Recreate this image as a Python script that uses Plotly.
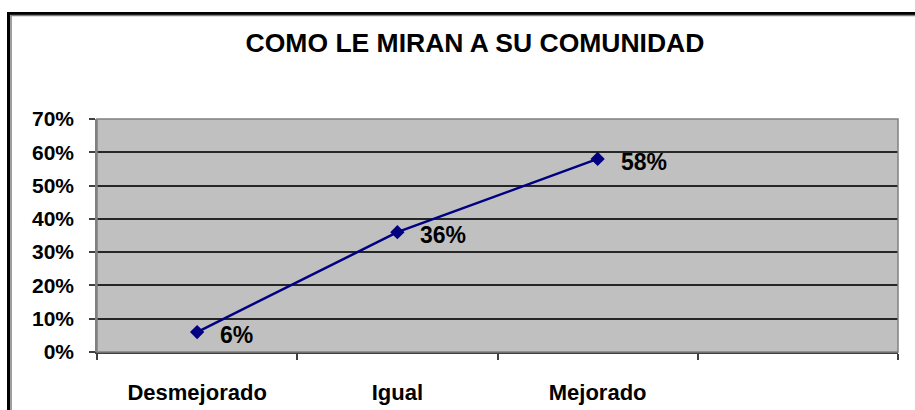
import plotly.graph_objects as go

categories = ["Desmejorado", "Igual", "Mejorado"]
axis_slots = ["Desmejorado", "Igual", "Mejorado", " "]
values = [0.06, 0.36, 0.58]
y_ticks = [0, 0.1, 0.2, 0.3, 0.4, 0.5, 0.6, 0.7]
title_text = "COMO LE MIRAN A SU COMUNIDAD"

W, H = 915, 410
L, R, T, B = 97, 898, 119, 352

FONT = "Liberation Sans, Arial, sans-serif"
NAVY = "#000080"

fig = go.Figure()
fig.add_trace(go.Scatter(
    x=categories, y=values, mode="lines+markers",
    line=dict(color=NAVY, width=2.5),
    marker=dict(symbol="diamond", size=11, color=NAVY),
    cliponaxis=False, showlegend=False, hoverinfo="skip",
))

annotations = [
    dict(x=c, y=v, xref="x", yref="y", text=f"{round(v*100)}%",
         showarrow=False, xanchor="left", yanchor="middle",
         xshift=21, yshift=-3,
         font=dict(family=FONT, size=23, color="black", weight="bold"))
    for c, v in zip(categories, values)
]

def px_x(p):
    return (p - L) / (R - L)

def px_y(p):
    return (B - p) / (B - T)

shapes = [
    dict(type="rect", xref="paper", yref="paper", x0=0, x1=1, y0=0, y1=1,
         line=dict(color="#808080", width=1.5), layer="above"),
    dict(type="rect", xref="paper", yref="paper",
         x0=px_x(8.5), x1=px_x(1000), y0=px_y(1000), y1=px_y(13.5),
         line=dict(color="black", width=3), layer="above"),
    dict(type="rect", xref="paper", yref="paper",
         x0=px_x(11), x1=px_x(1000), y0=px_y(1000), y1=px_y(15.5),
         line=dict(color="#808080", width=1.5), layer="above"),
]

fig.update_layout(
    width=W, height=H,
    margin=dict(l=L, r=W - R, t=T, b=H - B, pad=0, autoexpand=False),
    paper_bgcolor="white", plot_bgcolor="#C0C0C0",
    title=dict(text=title_text, x=475 / W, xref="container", xanchor="center",
               y=1 - 43 / H, yref="container", yanchor="middle",
               font=dict(family=FONT, size=26.5, color="black", weight="bold")),
    xaxis=dict(type="category", categoryorder="array", categoryarray=axis_slots,
               range=[-0.5, 3.5], tickson="boundaries", ticks="outside",
               ticklen=6, tickcolor="#404040", tickwidth=1.5,
               showline=True, linecolor="#404040", linewidth=1.5,
               showgrid=False, zeroline=False, ticklabelstandoff=20,
               automargin=False,
               tickfont=dict(family=FONT, size=22, color="black", weight="bold")),
    yaxis=dict(range=[0, 0.7], tickvals=y_ticks, tickformat=".0%",
               ticks="outside", ticklen=6, tickcolor="#404040", tickwidth=1.5,
               showline=True, linecolor="#808080", linewidth=1.5,
               showgrid=True, gridcolor="#262626", gridwidth=1.5,
               zeroline=False, ticklabelstandoff=11, automargin=False,
               tickfont=dict(family=FONT, size=21, color="black", weight="bold")),
    annotations=annotations,
    shapes=shapes,
)

fig.write_html("out.html", config={"displayModeBar": False},
               post_script="document.body.style.margin='0';"
                           "document.documentElement.style.overflow='hidden';")
